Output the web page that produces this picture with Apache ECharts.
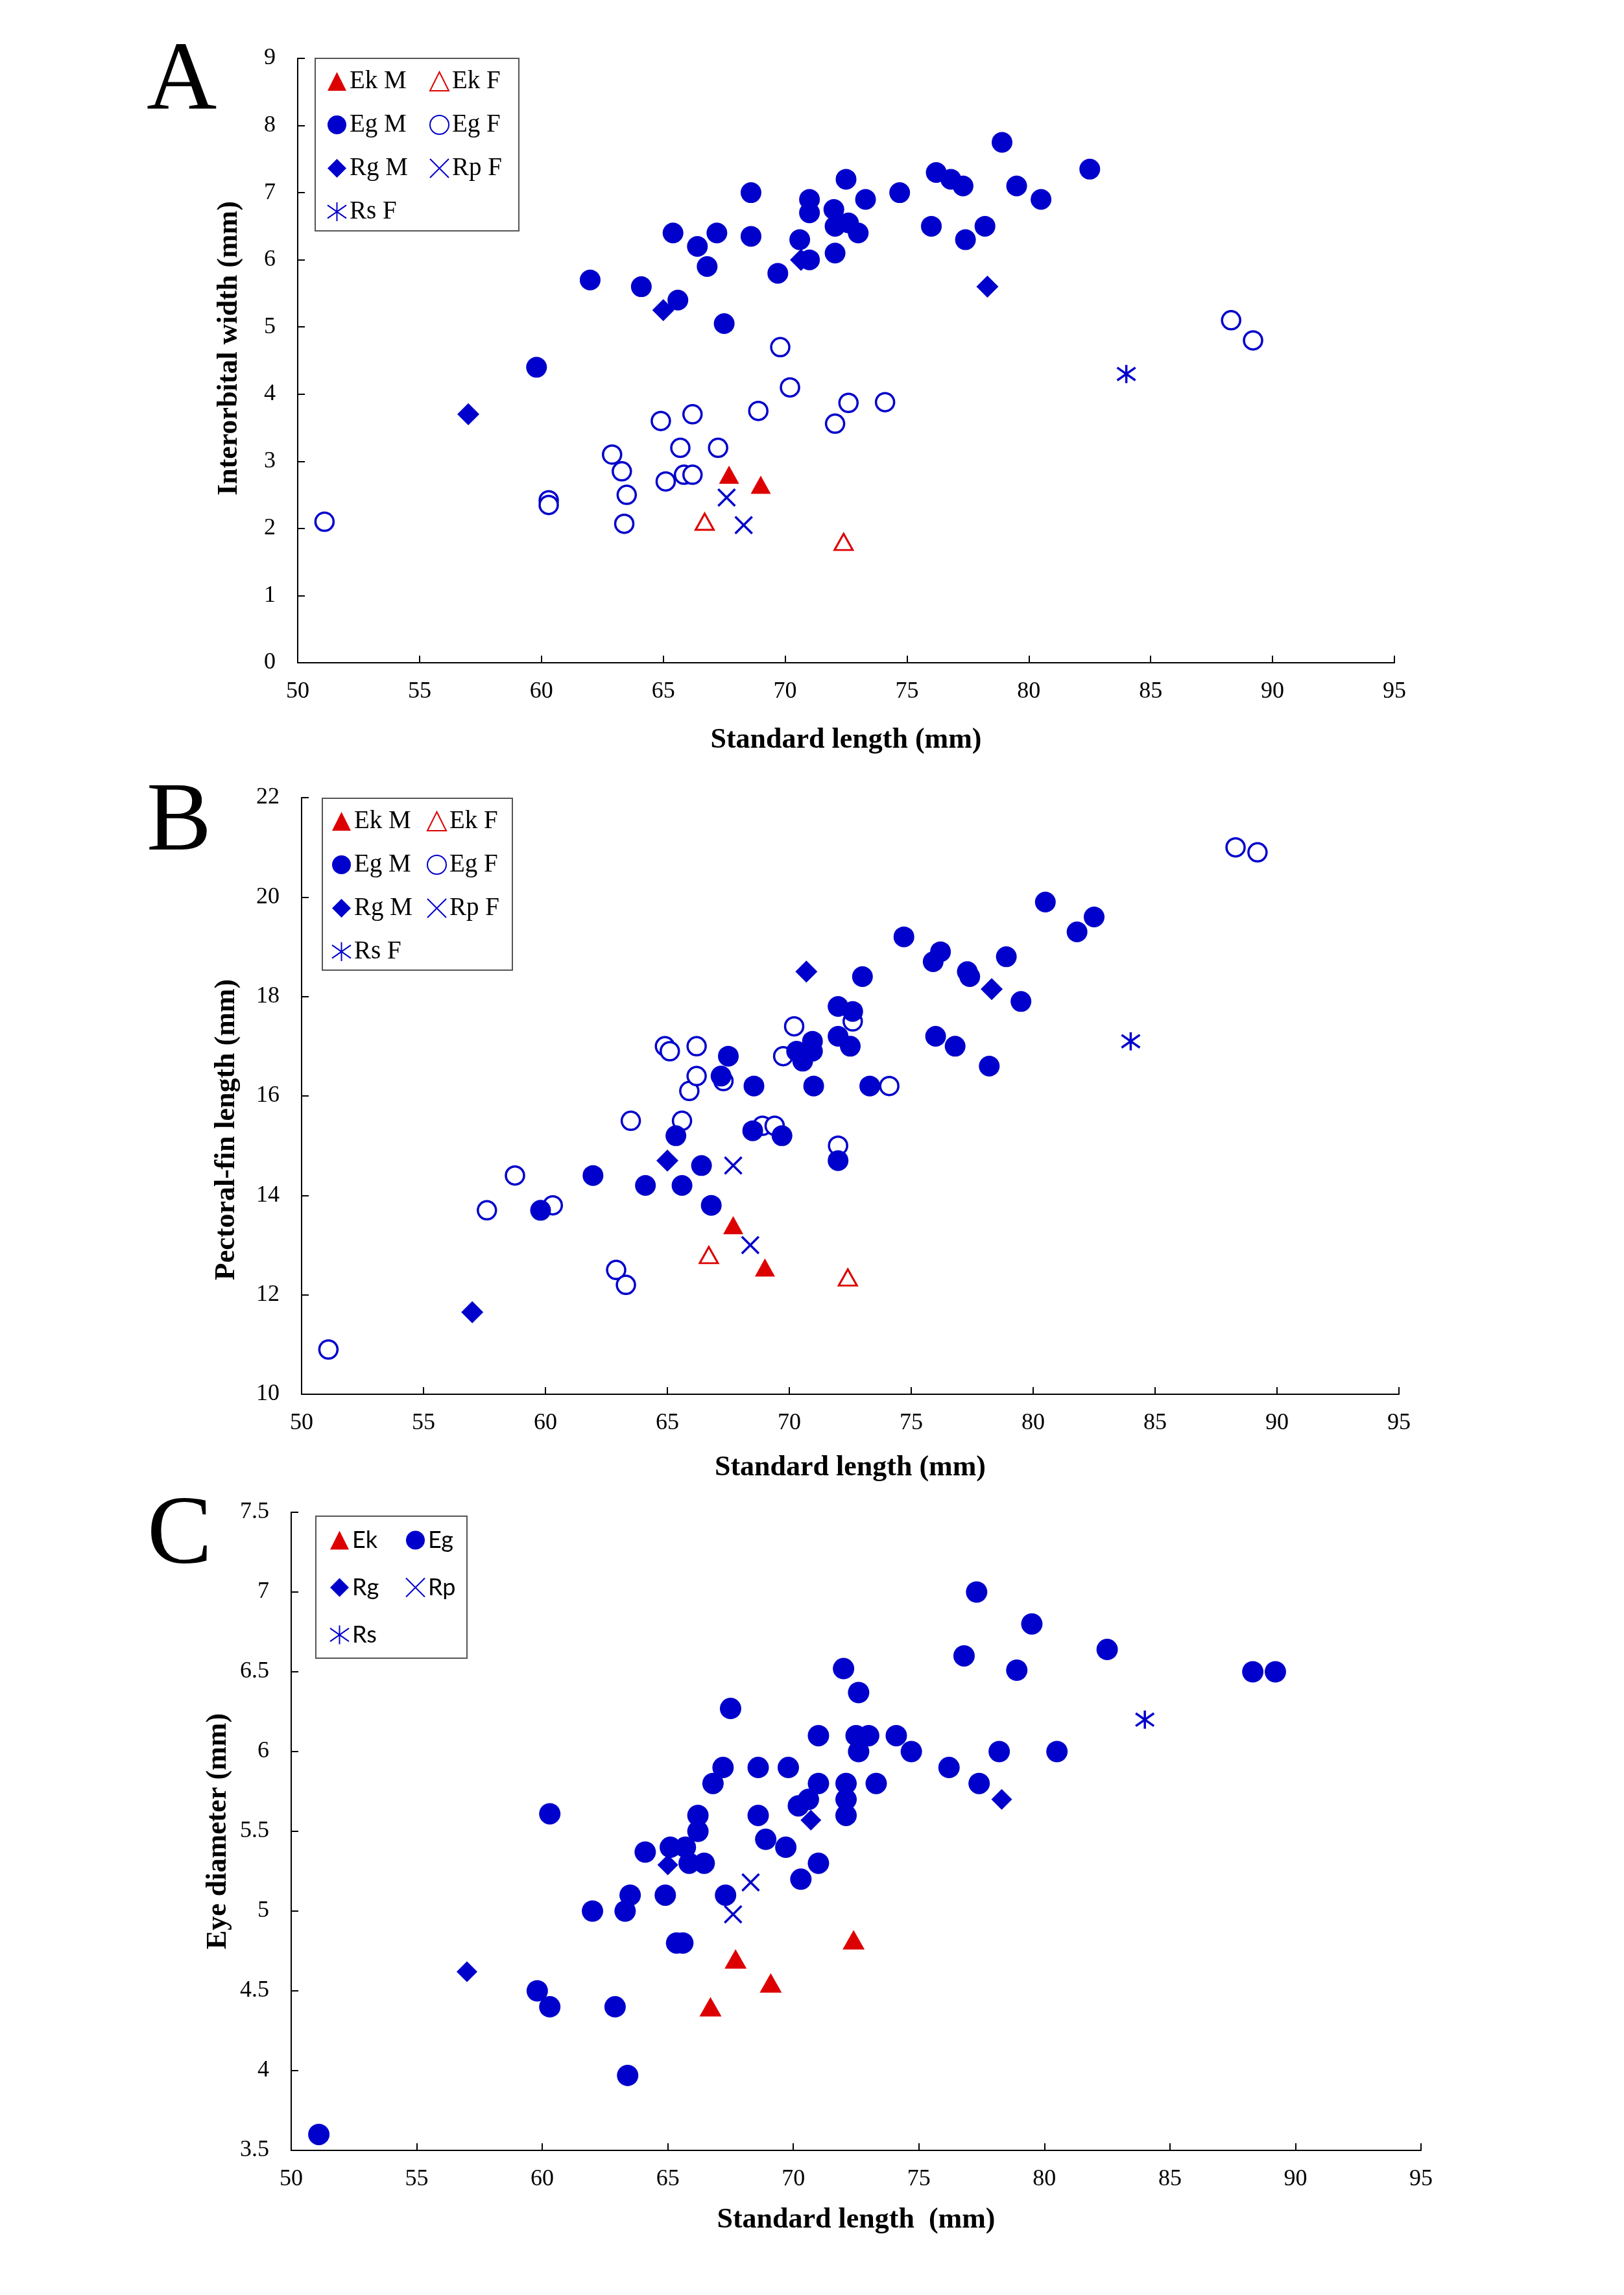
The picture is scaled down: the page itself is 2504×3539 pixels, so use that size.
<!DOCTYPE html>
<html>
<head>
<meta charset="utf-8">
<script src="https://cdn.jsdelivr.net/npm/echarts@6/dist/echarts.min.js"></script>
<style>
  html, body { margin: 0; padding: 0; background: #fff; }
  #chart { width: 2504px; height: 3539px; }
</style>
</head>
<body>
<div id="chart"></div>
<script>
// x axis shared by the three panels: standard length (mm)
const xRange = [50, 95, 5];

// panel A - interorbital width (mm)
const aRange = [0, 9, 1];
const aEkM = [[67.7, 2.8], [69.0, 2.65]];
const aEkF = [[66.7, 2.1], [72.4, 1.8]];
const aEgM = [[59.8, 4.4], [62.0, 5.7], [64.1, 5.6], [65.6, 5.4], [65.4, 6.4], [66.4, 6.2], [66.8, 5.9],
  [67.2, 6.4], [67.5, 5.05], [68.6, 7.0], [68.6, 6.35], [69.7, 5.8], [70.6, 6.3], [71.0, 6.9], [71.0, 6.7],
  [71.0, 6.0], [72.0, 6.75], [72.05, 6.5], [72.05, 6.1], [72.5, 7.2], [72.6, 6.55], [73.0, 6.4], [73.3, 6.9],
  [74.7, 7.0], [76.0, 6.5], [76.2, 7.3], [76.8, 7.2], [77.3, 7.1], [77.4, 6.3], [78.2, 6.5], [78.9, 7.75],
  [79.5, 7.1], [80.5, 6.9], [82.5, 7.35]];
const aEgF = [[51.1, 2.1], [60.3, 2.42], [60.3, 2.35], [62.9, 3.1], [63.3, 2.85], [63.5, 2.5], [63.4, 2.07],
  [64.9, 3.6], [65.1, 2.7], [65.7, 3.2], [65.85, 2.8], [66.2, 2.8], [66.2, 3.7], [67.25, 3.2], [68.9, 3.75],
  [69.8, 4.7], [70.2, 4.1], [72.05, 3.56], [72.6, 3.87], [74.1, 3.88], [88.3, 5.1], [89.2, 4.8]];
const aRgM = [[57.0, 3.7], [65.0, 5.25], [70.65, 6.0], [78.3, 5.6]];
const aRpF = [[67.6, 2.46], [68.3, 2.05]];
const aRsF = [[84.0, 4.3]];

// panel B - pectoral-fin length (mm)
const bRange = [10, 22, 2];
const bEkM = [[67.7, 13.4], [69.0, 12.55]];
const bEkF = [[66.7, 12.8], [72.4, 12.35]];
const bEgM = [[59.8, 13.7], [61.95, 14.4], [64.1, 14.2], [65.35, 15.2], [65.6, 14.2], [66.4, 14.6],
  [66.8, 13.8], [67.2, 16.4], [67.5, 16.8], [68.55, 16.2], [68.5, 15.3], [69.7, 15.2], [70.3, 16.9],
  [70.55, 16.7], [70.95, 17.1], [70.95, 16.9], [71.0, 16.2], [72.0, 17.8], [72.0, 17.2], [72.0, 14.7],
  [72.6, 17.7], [72.5, 17.0], [73.0, 18.4], [73.3, 16.2], [74.7, 19.2], [75.9, 18.7], [76.2, 18.9],
  [76.0, 17.2], [76.8, 17.0], [77.3, 18.5], [77.4, 18.4], [78.2, 16.6], [78.9, 18.8], [79.5, 17.9],
  [80.5, 19.9], [81.8, 19.3], [82.5, 19.6]];
const bEgF = [[51.1, 10.9], [57.6, 13.7], [58.75, 14.4], [60.3, 13.8], [62.9, 12.5], [63.3, 12.2],
  [63.5, 15.5], [64.9, 17.0], [65.1, 16.9], [65.6, 15.5], [65.9, 16.1], [66.2, 17.0], [66.2, 16.4],
  [67.3, 16.3], [68.9, 15.4], [69.4, 15.4], [69.75, 16.8], [70.2, 17.4], [72.0, 15.0], [72.6, 17.5],
  [74.1, 16.2], [88.3, 21.0], [89.2, 20.9]];
const bRgM = [[57.0, 11.65], [65.0, 14.7], [70.7, 18.5], [78.3, 18.15]];
const bRpF = [[67.7, 14.6], [68.4, 13.0]];
const bRsF = [[84.0, 17.1]];

// panel C - eye diameter (mm)
const cRange = [3.5, 7.5, 0.5];
const cEk = [[66.7, 4.4], [67.7, 4.7], [69.1, 4.55], [72.4, 4.82]];
const cEg = [[51.1, 3.6], [59.8, 4.5], [60.3, 4.4], [60.3, 5.61], [62.0, 5.0], [62.9, 4.4], [63.3, 5.0],
  [63.5, 5.1], [63.4, 3.97], [64.1, 5.37], [64.9, 5.1], [65.1, 5.4], [65.35, 4.8], [65.6, 4.8], [65.7, 5.4],
  [65.85, 5.3], [66.2, 5.5], [66.2, 5.6], [66.45, 5.3], [66.8, 5.8], [67.2, 5.9], [67.3, 5.1], [67.5, 6.27],
  [68.6, 5.9], [68.6, 5.6], [68.9, 5.45], [69.7, 5.4], [69.8, 5.9], [70.2, 5.66], [70.6, 5.7], [70.3, 5.2],
  [71.0, 6.1], [71.0, 5.8], [71.0, 5.3], [72.0, 6.52], [72.6, 6.37], [72.5, 6.1], [73.0, 6.1], [72.6, 6.0],
  [74.1, 6.1], [74.7, 6.0], [76.2, 5.9], [76.8, 6.6], [77.3, 7.0], [77.4, 5.8], [78.2, 6.0], [78.9, 6.51],
  [79.5, 6.8], [80.5, 6.0], [82.5, 6.64], [88.3, 6.5], [89.2, 6.5], [72.1, 5.8], [73.3, 5.8], [72.1, 5.7],
  [72.1, 5.6]];
const cRg = [[57.0, 4.62], [65.0, 5.29], [70.7, 5.57], [78.3, 5.7]];
const cRp = [[67.6, 4.98], [68.3, 5.18]];
const cRs = [[84.0, 6.2]];

const SERIF = "'Liberation Serif', 'Times New Roman', serif";
const SANS = "Lato, 'Open Sans', sans-serif";
const BLUE = "#0000cc";
const RED = "#dd0000";

const mk = {
  triFill: { symbol: "triangle", symbolSize: [31, 28], itemStyle: { color: RED, borderColor: RED, borderWidth: 0, opacity: 1 } },
  triOpen: { symbol: "triangle", symbolSize: [28, 25], itemStyle: { color: "#fff", borderColor: RED, borderWidth: 3, opacity: 1 } },
  dot: { symbol: "circle", symbolSize: 32, itemStyle: { color: BLUE, borderColor: BLUE, borderWidth: 0, opacity: 1 } },
  ring: { symbol: "circle", symbolSize: 28, itemStyle: { color: "#fff", borderColor: BLUE, borderWidth: 3.5, opacity: 1 } },
  dia: { symbol: "diamond", symbolSize: 34, itemStyle: { color: BLUE, borderColor: BLUE, borderWidth: 0, opacity: 1 } },
  cross: { symbol: "path://M0,0L10,10M10,0L0,10", symbolSize: 26, itemStyle: { color: "rgba(0,0,0,0)", borderColor: BLUE, borderWidth: 3.5, opacity: 1 } },
  star: { symbol: "path://M0,1.5L10,8.5M10,1.5L0,8.5M5,0L5,10", symbolSize: 28, itemStyle: { color: "rgba(0,0,0,0)", borderColor: BLUE, borderWidth: 3.5, opacity: 1 } },
};

function ser(name, data, gi, style, size) {
  const s = Object.assign({ type: "scatter", name: name, data: data, xAxisIndex: gi, yAxisIndex: gi, animation: false, silent: true }, style);
  if (size) s.symbolSize = size;
  return s;
}

function xAx(gi, gap) {
  return {
    gridIndex: gi, type: "value", min: xRange[0], max: xRange[1], interval: xRange[2],
    name: gi === 2 ? "Standard length  (mm)" : "Standard length (mm)",
    nameLocation: "middle", nameGap: gap,
    nameTextStyle: { fontFamily: SERIF, fontWeight: "bold", fontSize: 44, color: "#000" },
    axisLine: { onZero: false, lineStyle: { color: "#000", width: 2 } },
    axisTick: { inside: true, length: 11, lineStyle: { color: "#000", width: 2 } },
    axisLabel: { margin: 27, fontFamily: SERIF, fontSize: 36, color: "#000" },
    splitLine: { show: false },
  };
}

function yAx(gi, range, name, gap, pad) {
  return {
    gridIndex: gi, type: "value", min: range[0], max: range[1], interval: range[2],
    name: name, nameLocation: "middle", nameGap: gap,
    nameTextStyle: { fontFamily: SERIF, fontWeight: "bold", fontSize: 44, color: "#000", padding: pad },
    axisLine: { onZero: false, lineStyle: { color: "#000", width: 2 } },
    axisTick: { inside: true, length: 11, lineStyle: { color: "#000", width: 2 } },
    axisLabel: { margin: 34, fontFamily: SERIF, fontSize: 36, color: "#000" },
    splitLine: { show: false },
  };
}

function leg(left, top, names, font, gap) {
  return {
    left: left, top: top, orient: "vertical", padding: 0, itemGap: gap,
    itemWidth: 29, itemHeight: 29, selectedMode: false, data: names,
    itemStyle: { opacity: 1 },
    textStyle: { fontFamily: font, fontSize: font === SANS ? 36 : 39, color: "#000", lineHeight: 36 },
  };
}

function box(x, y, w, h) {
  return { type: "rect", z: 0, shape: { x: x, y: y, width: w, height: h }, style: { fill: "#fff", stroke: "#555", lineWidth: 2 } };
}

function letter(t, x, y) {
  return { type: "text", z: 5, x: x, y: y, style: { text: t, font: "150px " + SERIF, fill: "#000", align: "left", verticalAlign: "middle" } };
}

const chart = echarts.init(document.getElementById("chart"), null, { renderer: "canvas" });

chart.setOption({
  backgroundColor: "#fff",
  animation: false,
  grid: [
    { left: 459, top: 90, width: 1691, height: 932 },
    { left: 465, top: 1230, width: 1692, height: 920 },
    { left: 449, top: 2332, width: 1742, height: 984 },
  ],
  xAxis: [xAx(0, 98), xAx(1, 92), xAx(2, 86)],
  yAxis: [
    yAx(0, aRange, "Interorbital width (mm)", 83, [0, 0, 0, 38]),
    yAx(1, bRange, "Pectoral-fin length (mm)", 93, [0, 104, 0, 0]),
    yAx(2, cRange, "Eye diameter (mm)", 90, 0),
  ],
  legend: [
    leg(504, 106, ["Ek M", "Eg M", "Rg M", "Rs F"], SERIF, 28),
    leg(662, 106, ["Ek F", "Eg F", "Rp F"], SERIF, 28),
    leg(511, 1247, ["Ek M", "Eg M", "Rg M", "Rs F"], SERIF, 28),
    leg(658, 1247, ["Ek F", "Eg F", "Rp F"], SERIF, 28),
    leg(508, 2357, ["Ek", "Rg", "Rs"], SANS, 37),
    leg(625, 2357, ["Eg", "Rp"], SANS, 37),
  ],
  graphic: [
    box(486, 90, 314, 266),
    box(497, 1231, 293, 265),
    box(487, 2338, 233, 219),
    letter("A", 226, 128),
    letter("B", 226, 1271),
    letter("C", 227, 2371),
  ],
  series: [
    // panel A (diamonds and open circles first so filled circles sit on top)
    ser("Rg M", aRgM, 0, mk.dia),
    ser("Eg F", aEgF, 0, mk.ring),
    ser("Eg M", aEgM, 0, mk.dot),
    ser("Ek M", aEkM, 0, mk.triFill),
    ser("Ek F", aEkF, 0, mk.triOpen),
    ser("Rp F", aRpF, 0, mk.cross),
    ser("Rs F", aRsF, 0, mk.star),
    // panel B
    ser("Rg M", bRgM, 1, mk.dia),
    ser("Eg F", bEgF, 1, mk.ring),
    ser("Eg M", bEgM, 1, mk.dot),
    ser("Ek M", bEkM, 1, mk.triFill),
    ser("Ek F", bEkF, 1, mk.triOpen),
    ser("Rp F", bRpF, 1, mk.cross),
    ser("Rs F", bRsF, 1, mk.star),
    // panel C
    ser("Rg", cRg, 2, mk.dia, 32),
    ser("Eg", cEg, 2, mk.dot, 33),
    ser("Ek", cEk, 2, mk.triFill, [34, 30]),
    ser("Rp", cRp, 2, mk.cross),
    ser("Rs", cRs, 2, mk.star),
  ],
});
</script>
</body>
</html>
